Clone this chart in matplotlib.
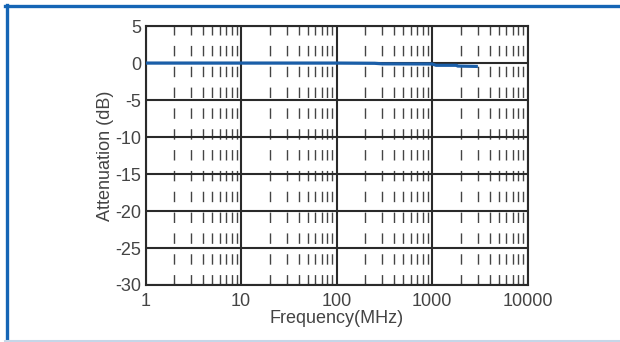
import matplotlib
matplotlib.use("Agg")
import matplotlib.pyplot as plt
from matplotlib.lines import Line2D
import numpy as np

freq_mhz = [1, 10, 100, 250, 300, 1000, 1100, 1800, 1850, 2900]
atten_db = [0.0, 0.0, 0.0, -0.03, -0.1, -0.12, -0.3, -0.3, -0.4, -0.45]
x_ticks = [1, 10, 100, 1000, 10000]
x_tick_labels = ["1", "10", "100", "1000", "10000"]
y_ticks = [5, 0, -5, -10, -15, -20, -25, -30]

plt.rcParams['font.family'] = ['Liberation Sans', 'DejaVu Sans']
fig = plt.figure(figsize=(6.2, 3.42), dpi=100)
ax = fig.add_axes([0.235, 0.1667, 0.616, 0.757])

ax.set_xscale('log')
ax.set_xlim(1, 10000)
ax.set_ylim(-30, 5)

# minor dashed grid
for dec in [1, 10, 100, 1000]:
    for m in range(2, 10):
        ax.axvline(dec * m, color='#444444', lw=1.0, dashes=(7.5, 7.5), zorder=1)
# major grid
for xt in x_ticks:
    ax.axvline(xt, color='#2a2a2a', lw=1.5, zorder=2)
for yt in y_ticks:
    ax.axhline(yt, color='#2a2a2a', lw=1.5, zorder=2)

ax.plot(freq_mhz, atten_db, color='#1a5ea8', lw=2.3, zorder=3)

ax.set_xticks(x_ticks)
ax.set_xticklabels(x_tick_labels)
ax.set_yticks(y_ticks)
ax.set_yticklabels([str(v) for v in y_ticks])
ax.tick_params(which='major', length=0, labelsize=13, colors='#444444')
ax.tick_params(axis='x', which='major', pad=6)
ax.tick_params(axis='y', which='major', pad=3)
ax.tick_params(axis='x', which='minor', direction='in', length=2, width=0.8, color='#444444', labelbottom=False)
ax.tick_params(axis='y', which='minor', length=0)
for s in ax.spines.values():
    s.set_color('#2a2a2a')
    s.set_linewidth(1.5)
ax.set_xlabel('Frequency(MHz)', fontsize=13, color='#444444', labelpad=0)
ax.set_ylabel('Attenuation (dB)', fontsize=13, color='#444444', labelpad=1)

# frame
fig.add_artist(Line2D([5/620, 1.0], [1 - 5.5/342, 1 - 5.5/342], color='#1565b5', lw=2.4, transform=fig.transFigure))
fig.add_artist(Line2D([6.5/620, 6.5/620], [1 - 4.5/342, 0], color='#1565b5', lw=2.4, transform=fig.transFigure))
fig.add_artist(Line2D([5/620, 1.0], [1.2/342, 1.2/342], color='#c6d6e8', lw=1.5, transform=fig.transFigure))

fig.savefig('out.png', dpi=100)
